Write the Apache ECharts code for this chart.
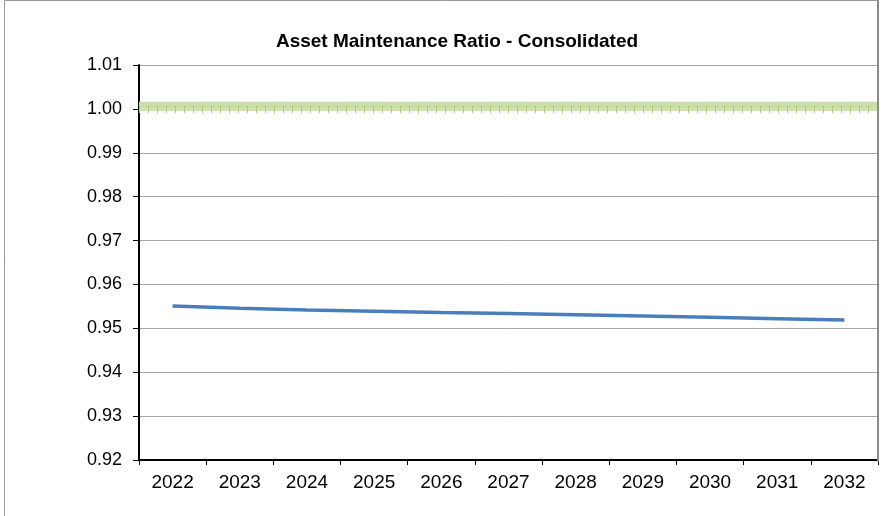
<!DOCTYPE html>
<html>
<head>
<meta charset="utf-8">
<script src="https://cdn.jsdelivr.net/npm/echarts@6/dist/echarts.min.js"></script>
<style>
  html, body { margin: 0; padding: 0; background: #fff; }
  #chart { width: 890px; height: 516px; }
</style>
</head>
<body>
<div id="chart"></div>
<script>
// Asset maintenance ratio, consolidated forecast
const years = ['2022', '2023', '2024', '2025', '2026', '2027', '2028', '2029', '2030', '2031', '2032'];
const ratio = [0.9551, 0.9546, 0.9542, 0.9539, 0.9536, 0.9534, 0.9531, 0.9528, 0.9525, 0.9522, 0.9519];
const target = 1.00;
const yMin = 0.92, yMax = 1.01, yStep = 0.01;

const chart = echarts.init(document.getElementById('chart'));
const font = '"Liberation Sans", Arial, sans-serif';

// textured band marking the 1.00 target level
const bandTop = target + 0.0016;
const bandLow = target - 0.0011;

chart.setOption({
  animation: false,
  backgroundColor: '#fff',
  title: {
    text: 'Asset Maintenance Ratio - Consolidated',
    left: 452, top: 27, textAlign: 'center',
    textStyle: { fontFamily: font, fontWeight: 'bold', fontSize: 19, color: '#000' }
  },
  graphic: [
    { type: 'polyline', shape: { points: [[4.5, 516], [4.5, 0.5], [878, 0.5]] },
      style: { stroke: '#9a9a9a', lineWidth: 1, fill: null }, z: 10 },
    { type: 'line', shape: { x1: 878, y1: 0, x2: 878, y2: 462 },
      style: { stroke: '#8c8c8c', lineWidth: 2 }, z: 10 }
  ],
  grid: { left: 139, right: 12, top: 65, bottom: 56 },
  xAxis: {
    type: 'category', data: years, boundaryGap: true,
    axisLine: { lineStyle: { color: '#000', width: 2 } },
    axisTick: { show: true, length: 5, lineStyle: { color: '#000' } },
    axisLabel: { fontFamily: font, fontSize: 19, color: '#000', margin: 13 },
    splitLine: { show: false }
  },
  yAxis: {
    type: 'value', min: yMin, max: yMax, interval: yStep,
    axisLine: { show: true, lineStyle: { color: '#000', width: 2 } },
    axisTick: { show: true, length: 6, lineStyle: { color: '#000' } },
    axisLabel: { fontFamily: font, fontSize: 18, color: '#000', margin: 17,
      formatter: v => v.toFixed(2) },
    splitLine: { show: true, lineStyle: { color: '#a6a6a6', width: 1 } }
  },
  series: [
    {
      type: 'line', data: ratio, symbol: 'none', smooth: false,
      lineStyle: { color: '#4a7ebb', width: 3.5 },
      z: 5,
      markArea: {
        silent: true,
        itemStyle: { color: '#cadfa6', borderWidth: 0 },
        data: [[{ yAxis: bandTop }, { yAxis: target }]]
      },
      markLine: {
        silent: true, symbol: 'none', label: { show: false },
        data: [
          // vertical hatch across the band
          { yAxis: (bandTop + target) / 2,
            lineStyle: { color: '#a6c574', width: 7, type: [1, 8], cap: 'butt' } },
          { yAxis: bandTop, lineStyle: { color: '#afcb82', width: 1, type: 'solid' } },
          { yAxis: target, lineStyle: { color: '#82a548', width: 1.5, type: 'solid' } },
          { yAxis: bandLow, lineStyle: { color: '#d0e3b0', width: 3, type: 'solid' } },
          { yAxis: bandLow, lineStyle: { color: '#b3cf86', width: 3, type: [1, 8], cap: 'butt' } }
        ]
      }
    }
  ]
});
</script>
</body>
</html>
